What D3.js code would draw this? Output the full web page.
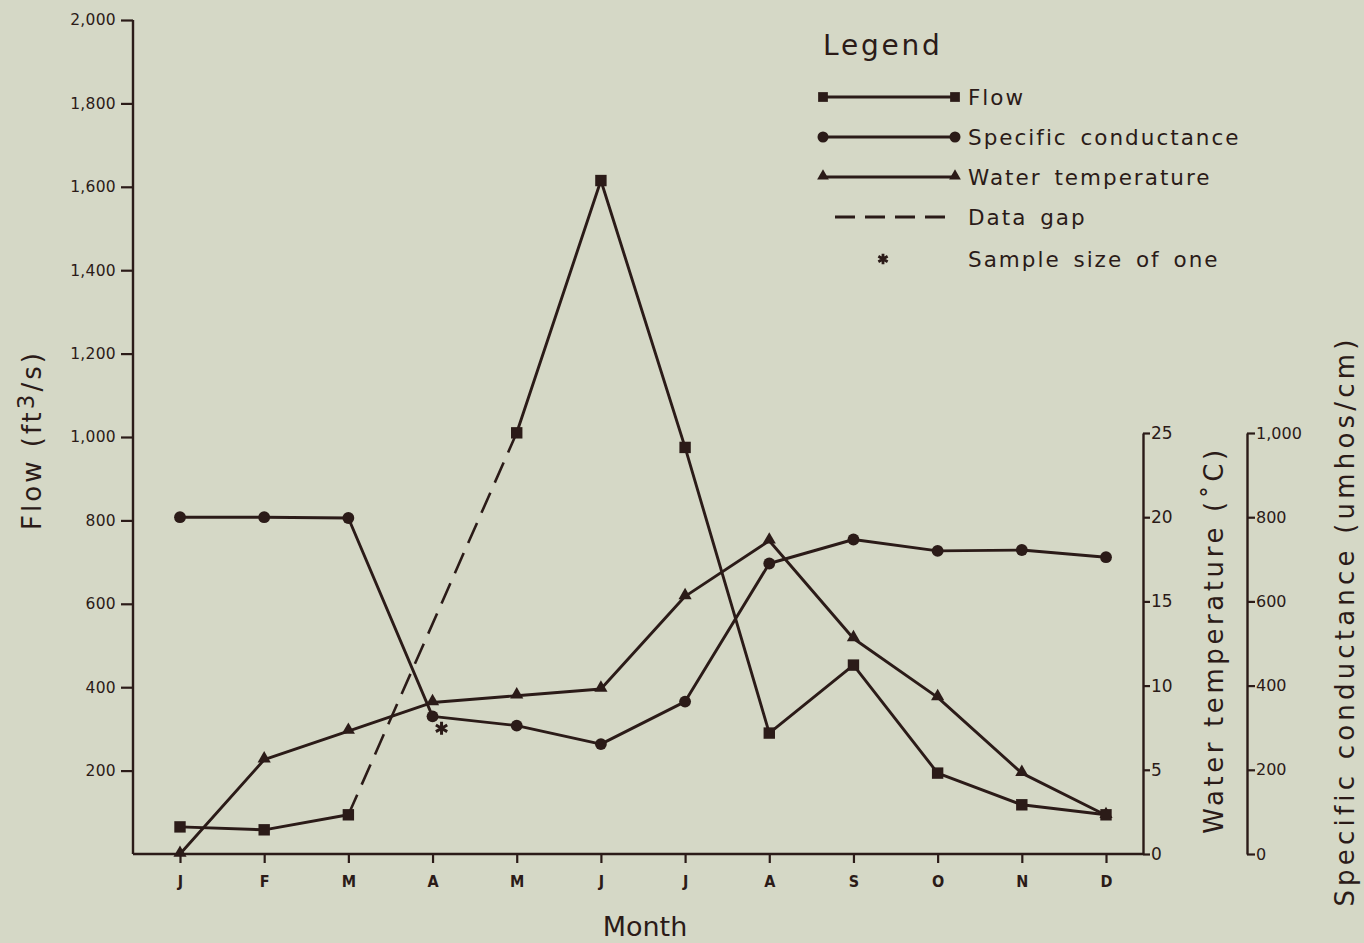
<!DOCTYPE html>
<html><head><meta charset="utf-8">
<script src="https://cdn.jsdelivr.net/npm/d3@7"></script>
<style>
html,body{margin:0;padding:0;background:#d5d8c6;}
svg{display:block;}
</style></head><body>
<svg id="chart" width="1364" height="943"></svg>
<script>
// ---------- data ----------
const months = ["J","F","M","A","M","J","J","A","S","O","N","D"];
const flow = [65, 58, 94, null, 1010, 1615, 975, 290, 453, 194, 118, 94];
const conductance = [800, 800, 798, 327, 305, 261, 362, 690, 747, 720, 722, 705];
const temperature = [0, 5.6, 7.3, 9.0, 9.4, 9.8, 15.3, 18.6, 12.8, 9.3, 4.8, 2.3];
const sampleOfOne = [3];            // month index of conductance value with one sample
const flowTicks = [200, 400, 600, 800, 1000, 1200, 1400, 1600, 1800, 2000];
const tempTicks = [0, 5, 10, 15, 20, 25];
const condTicks = [0, 200, 400, 600, 800, 1000];
const legendLabels = ["Flow", "Specific conductance", "Water temperature", "Data gap", "Sample size of one"];

// ---------- style ----------
const INK = "#2b1b18";
const FONT = "'DejaVu Sans', Verdana, sans-serif";
const NARROW = "'Liberation Sans Narrow', 'DejaVu Sans Condensed', 'Liberation Sans', sans-serif";

const svg = d3.select("#chart");
svg.append("rect").attr("width", 1364).attr("height", 943).attr("fill", "#d5d8c6");

const leftX = 133, tempX = 1143, condX = 1247, baseY = 854;
const x = d3.scaleLinear().domain([0, 11]).range([180, 1106]);
const yFlow = d3.scaleLinear().domain([0, 2000]).range([baseY, 20]);
const yTemp = d3.scaleLinear().domain([0, 25]).range([baseY, 433]);
const yCond = d3.scaleLinear().domain([0, 1000]).range([baseY, 433]);

function styleAxis(g, size, family) {
  g.attr("font-size", size).attr("font-family", family);
  g.selectAll("path.domain").attr("stroke", INK).attr("stroke-width", 2.4);
  g.selectAll(".tick line").attr("stroke", INK).attr("stroke-width", 2.2);
  g.selectAll(".tick text").attr("fill", INK).style("font-size", size + "px").style("font-family", family);
}

// left flow axis
const gL = svg.append("g").attr("transform", `translate(${leftX},0)`)
  .call(d3.axisLeft(yFlow).tickValues(flowTicks).tickSize(12).tickSizeOuter(0).tickPadding(5).tickFormat(d3.format(",")));
gL.select("path.domain").attr("d", `M0,${yFlow(2000)}V${baseY}`);
styleAxis(gL, 15.5, FONT);
gL.selectAll(".tick text").attr("letter-spacing", 0.3);

// bottom axis
const gB = svg.append("g").attr("transform", `translate(0,${baseY})`)
  .call(d3.axisBottom(x).tickValues(d3.range(months.length)).tickFormat(i => months[i]).tickSize(9).tickSizeOuter(0).tickPadding(13));
gB.select("path.domain").attr("d", `M${leftX},0H${tempX}`);
styleAxis(gB, 16, NARROW);
gB.selectAll(".tick text").style("font-weight", "bold");

// temperature axis
const gT = svg.append("g").attr("transform", `translate(${tempX},0)`)
  .call(d3.axisRight(yTemp).tickValues(tempTicks).tickSize(7).tickSizeOuter(0).tickPadding(1));
styleAxis(gT, 17, FONT);

// conductance axis
const gC = svg.append("g").attr("transform", `translate(${condX},0)`)
  .call(d3.axisRight(yCond).tickValues(condTicks).tickSize(8).tickSizeOuter(0).tickPadding(1).tickFormat(d3.format(",")));
styleAxis(gC, 16, FONT);

// axis titles
svg.append("text").attr("transform", "translate(41,440) rotate(-90)")
  .attr("text-anchor", "middle").attr("font-family", FONT).attr("font-size", 26)
  .attr("letter-spacing", 3).attr("fill", INK)
  .call(t => {
    t.append("tspan").text("Flow  (ft");
    t.append("tspan").attr("dy", -7).attr("font-size", 23).text("3");
    t.append("tspan").attr("dy", 7).text("/s)");
  });
svg.append("text").attr("transform", "translate(1223,640) rotate(-90)")
  .attr("text-anchor", "middle").attr("font-family", FONT).attr("font-size", 26)
  .attr("letter-spacing", 3.6).attr("fill", INK).text("Water  temperature  (˚C)");
svg.append("text").attr("transform", "translate(1354,621) rotate(-90)")
  .attr("text-anchor", "middle").attr("font-family", FONT).attr("font-size", 26)
  .attr("letter-spacing", 4.2).attr("fill", INK).text("Specific  conductance  (umhos/cm)");
svg.append("text").attr("x", 645).attr("y", 936).attr("text-anchor", "middle")
  .attr("font-family", FONT).attr("font-size", 27).attr("fill", INK).text("Month");

// ---------- series ----------
const plot = svg.append("g");
const lineStyle = sel => sel.attr("fill", "none").attr("stroke", INK).attr("stroke-width", 2.9).attr("stroke-linejoin", "round");

// flow
plot.append("path").datum(flow)
  .attr("d", d3.line().defined(d => d != null).x((d, i) => x(i)).y(d => yFlow(d)))
  .call(lineStyle);
// data gap (dashed) across missing flow values
const gaps = [];
flow.forEach((d, i) => {
  if (d == null) {
    let a = i - 1, b = i + 1;
    while (a >= 0 && flow[a] == null) a--;
    while (b < flow.length && flow[b] == null) b++;
    if (a >= 0 && b < flow.length && !gaps.some(g => g[0] === a)) gaps.push([a, b]);
  }
});
plot.selectAll("path.gap").data(gaps).join("path").attr("class", "gap")
  .attr("d", g => d3.line()([[x(g[0]), yFlow(flow[g[0]])], [x(g[1]), yFlow(flow[g[1]])]]))
  .call(lineStyle).attr("stroke-dasharray", "22,11").attr("stroke-width", 2.6);

// conductance
plot.append("path").datum(conductance)
  .attr("d", d3.line().x((d, i) => x(i)).y(d => yCond(d))).call(lineStyle);
// temperature
plot.append("path").datum(temperature)
  .attr("d", d3.line().x((d, i) => x(i)).y(d => yTemp(d))).call(lineStyle);

const sq = d3.symbol(d3.symbolSquare, 130)();
const circ = d3.symbol(d3.symbolCircle, 110)();
const tri = d3.symbol(d3.symbolTriangle, 75)();

plot.selectAll("path.tm").data(temperature).join("path").attr("class", "tm")
  .attr("d", tri).attr("fill", INK)
  .attr("transform", (d, i) => `translate(${x(i)},${yTemp(d) - 1})`);
plot.selectAll("path.cm").data(conductance).join("path").attr("class", "cm")
  .attr("d", circ).attr("fill", INK)
  .attr("transform", (d, i) => `translate(${x(i)},${yCond(d)})`);
plot.selectAll("path.fm").data(flow.map((v, i) => [i, v]).filter(d => d[1] != null)).join("path").attr("class", "fm")
  .attr("d", sq).attr("fill", INK)
  .attr("transform", d => `translate(${x(d[0])},${yFlow(d[1])})`);

// sample size of one marker
const ast = d3.symbol(d3.symbolAsterisk, 120)();
plot.selectAll("path.ast").data(sampleOfOne).join("path").attr("class", "ast")
  .attr("d", ast).attr("fill", "none").attr("stroke", INK).attr("stroke-width", 3)
  .attr("transform", i => `translate(${x(i) + 9},${yCond(conductance[i]) + 12})`);

// ---------- legend ----------
const lg = svg.append("g").attr("transform", "translate(823,0)");
lg.append("text").attr("x", 0).attr("y", 55).attr("font-family", FONT).attr("font-size", 28)
  .attr("letter-spacing", 2.8).attr("fill", INK).text("Legend");
const rowsY = [97, 137, 177, 217, 259];
const rowSym = [d3.symbol(d3.symbolSquare, 95)(), d3.symbol(d3.symbolCircle, 95)(), d3.symbol(d3.symbolTriangle, 60)()];
legendLabels.forEach((lab, k) => {
  const y = rowsY[k];
  if (k < 3) {
    lg.append("line").attr("x1", 0).attr("x2", 132).attr("y1", y).attr("y2", y)
      .attr("stroke", INK).attr("stroke-width", 2.8);
    [0, 132].forEach(px => lg.append("path").attr("d", rowSym[k]).attr("fill", INK)
      .attr("transform", `translate(${px},${y - (k === 2 ? 1 : 0)})`));
  } else if (k === 3) {
    lg.append("line").attr("x1", 12).attr("x2", 132).attr("y1", y).attr("y2", y)
      .attr("stroke", INK).attr("stroke-width", 2.8).attr("stroke-dasharray", "20,10");
  } else {
    lg.append("path").attr("d", d3.symbol(d3.symbolAsterisk, 80)()).attr("fill", "none")
      .attr("stroke", INK).attr("stroke-width", 2.8).attr("transform", `translate(60,${y})`);
  }
  lg.append("text").attr("x", 145).attr("y", y).attr("dy", "0.36em")
    .attr("font-family", FONT).attr("font-size", 21.5).attr("letter-spacing", 2)
    .attr("word-spacing", 4).attr("fill", INK).text(lab);
});
</script>
</body></html>
